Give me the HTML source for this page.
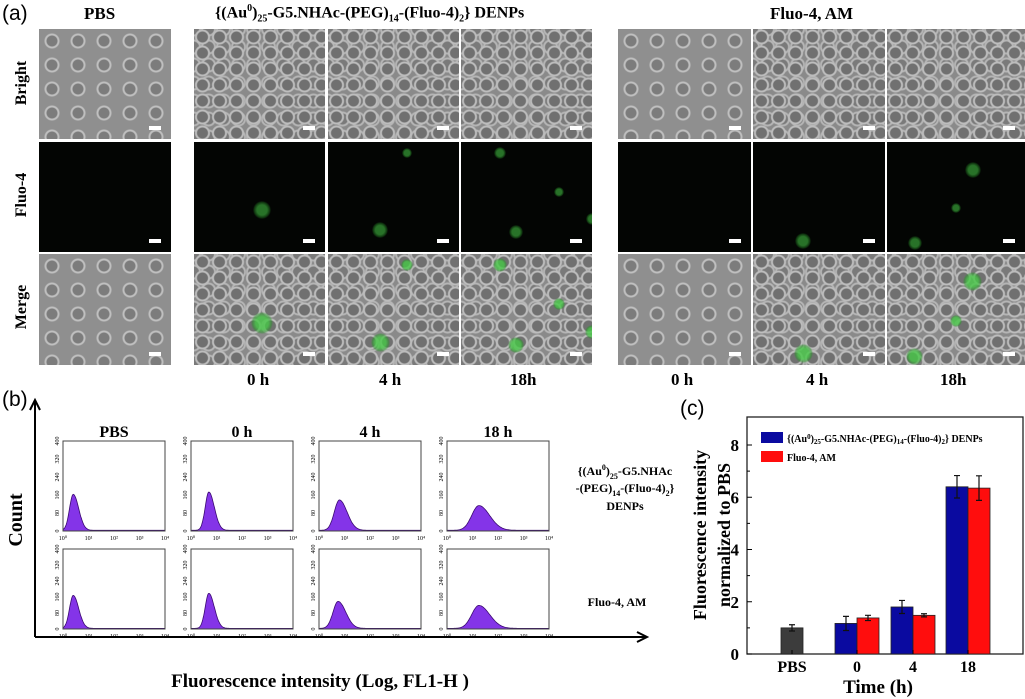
<!DOCTYPE html>
<html><head><meta charset="utf-8">
<style>
body{margin:0;width:1025px;height:699px;background:#fff;position:relative;overflow:hidden;font-family:"Liberation Serif",serif}
.t{position:absolute;font-weight:bold;white-space:nowrap}
.img{position:absolute;overflow:hidden}
.br{background-color:#8a8a8a;background-image:radial-gradient(circle at 50% 50%,#707070 0 5px,#bdbdbd 6px 7px,transparent 8px),radial-gradient(circle at 50% 50%,#7a7a7a 0 5px,#b5b5b5 6px 7px,transparent 8px);background-size:17px 16px,15px 18px;background-position:0 0,7px 9px}
.br2{background-color:#8f8f8f;background-image:radial-gradient(circle at 50% 50%,#7c7c7c 0 5px,#c0c0c0 6px 7px,transparent 8px);background-size:26px 24px}
.fl{background:#030503}
.sb{position:absolute;width:12px;height:4px;background:#fff}
.g{position:absolute;border-radius:50%;background:radial-gradient(circle,rgba(70,200,70,0.8) 0 40%,rgba(40,150,40,0.5) 60%,transparent 72%)}
.rot{position:absolute;transform:rotate(-90deg);transform-origin:center;font-weight:bold;white-space:nowrap}
</style></head><body>
<div class="t" style="left:2px;top:2px;font-family:'Liberation Sans',sans-serif;font-weight:normal;font-size:21px">(a)</div>
<div class="t" style="left:84px;top:4px;font-size:17px">PBS</div>
<div class="t" style="left:215px;top:3px;font-size:16px">{(Au<sup style="font-size:10px">0</sup>)<sub style="font-size:10px">25</sub>-G5.NHAc-(PEG)<sub style="font-size:10px">14</sub>-(Fluo-4)<sub style="font-size:10px">2</sub>} DENPs</div>
<div class="t" style="left:770px;top:4px;font-size:17px">Fluo-4, AM</div>
<div class="rot" style="left:-8px;top:74px;width:60px;text-align:center;font-size:16px">Bright</div>
<div class="rot" style="left:-8px;top:186px;width:60px;text-align:center;font-size:16px">Fluo-4</div>
<div class="rot" style="left:-8px;top:298px;width:60px;text-align:center;font-size:16px">Merge</div>
<div id="imgs"></div>
<div class="t" style="left:247px;top:370px;font-size:17px">0 h</div>
<div class="t" style="left:379px;top:370px;font-size:17px">4 h</div>
<div class="t" style="left:510px;top:370px;font-size:17px">18h</div>
<div class="t" style="left:671px;top:370px;font-size:17px">0 h</div>
<div class="t" style="left:806px;top:370px;font-size:17px">4 h</div>
<div class="t" style="left:940px;top:370px;font-size:17px">18h</div>
<div class="t" style="left:2px;top:388px;font-family:'Liberation Sans',sans-serif;font-weight:normal;font-size:21px">(b)</div>
<div class="t" style="left:680px;top:397px;font-family:'Liberation Sans',sans-serif;font-weight:normal;font-size:21px">(c)</div>
<svg id="hist" width="1025" height="699" style="position:absolute;left:0;top:0"></svg>
<svg id="bar" width="1025" height="699" style="position:absolute;left:0;top:0"></svg>
<script>
const colsX=[39,194,328,461,618,753,887];
const colW=[132,131,131,131,133,132,138];
const rowsY=[29,142,254];
const rowH=[110,110,111];
const imgBox=document.getElementById('imgs');
const greenSpots=[[],[[52,62,18]],[[40,80,16],[60,10,10]],[[30,10,12],[42,82,14],[100,70,12],[75,45,10]],[],[[38,90,16]],[[20,92,14],[62,25,16],[50,60,10]]];
const rowNames=['bright','fluo4','merge'];
for(let r=0;r<3;r++){for(let c=0;c<7;c++){
 const d=document.createElement('div');
 
 
 d.className='img '+(r===1?'fl':(c===0||c===4?'br2':'br'));
 d.style.left=colsX[c]+'px';d.style.top=rowsY[r]+'px';d.style.width=colW[c]+'px';d.style.height=rowH[r]+'px';
 if(r>0){greenSpots[c].forEach(s=>{const g=document.createElement('div');g.className='g';
  
  
  const sz=s[2]*(r===1?1:1.2);g.style.width=sz+'px';g.style.height=sz+'px';
  g.style.left=(s[0]/100*colW[c]-sz/2)+'px';g.style.top=(s[1]/100*rowH[r]-sz/2)+'px';
  if(r===1)g.style.opacity='0.7';d.appendChild(g);});}
 const s=document.createElement('div');s.className='sb';
 
 
 s.style.left=(colW[c]-22)+'px';s.style.top=(rowH[r]-13)+'px';
 d.appendChild(s);imgBox.appendChild(d);
}}
</script>
<script>
const histConditions=['PBS','0 h','4 h','18 h'];
const histTreatments=['DENPs','Fluo-4, AM'];
const peakLogDenps=[0.4,0.7,0.8,1.25];
const peakHeightDenps=[160,170,135,110];
const peakWidthDenps=[0.18,0.18,0.25,0.35];
const peakLogAm=[0.4,0.7,0.75,1.25];
const peakHeightAm=[165,175,135,115];
const peakWidthAm=[0.18,0.18,0.25,0.35];
const yTickLabels=['0','80','160','240','320','400'];
const yTickValues=[0,80,160,240,320,400];
const xTickLabels=['10⁰','10¹','10²','10³','10⁴'];
const NS='http://www.w3.org/2000/svg';
const H=document.getElementById('hist');
function el(tag,a,p){const e=document.createElementNS(NS,tag);for(const k in a)e.setAttribute(k,a[k]);(p||H).appendChild(e);return e;}
const hx0=[63,191,319,447],hw=102,hy0=[441,549],hh=[90,80];
const ln=el('path',{d:'M35,637 V402 M30,410 L35,400 L40,410 M35,637 H645 M637,632 L647,637 L637,642',stroke:'#000','stroke-width':2,fill:'none'});

for(let r=0;r<2;r++){
 const pk=r?peakLogAm:peakLogDenps,ph=r?peakHeightAm:peakHeightDenps,pw=r?peakWidthAm:peakWidthDenps;
 for(let c=0;c<4;c++){
  const x0=hx0[c],y0=hy0[r],h=hh[r];
  const X=v=>x0+v/4*hw, Y=v=>y0+h-v/400*h;
  let d=`M${X(0)},${Y(0)}`;
  for(let i=0;i<=200;i++){const v=i/50;const s=v<pk[c]?pw[c]*0.8:pw[c]*1.2;d+=` L${X(v).toFixed(1)},${Y(ph[c]*Math.exp(-((v-pk[c])**2)/(2*s*s))+3).toFixed(1)}`;}
  d+=` L${X(4)},${Y(0)} Z`;
  const a=el('path',{d:d,fill:'#8434e8',stroke:'#3a0a70','stroke-width':0.8});
  
  
  const f=el('rect',{x:x0,y:y0,width:hw,height:h,fill:'none',stroke:'#444','stroke-width':1});
  
  yTickValues.forEach((v,i)=>{const t=el('text',{x:0,y:0,'font-size':6,'font-family':'Liberation Serif',transform:`translate(${x0-4},${Y(v)}) rotate(-90)`,'text-anchor':'middle'});t.textContent=yTickLabels[i];
   });
  xTickLabels.forEach((l,i)=>{const t=el('text',{x:X(i),y:y0+h+9,'font-size':6,'font-family':'Liberation Serif','text-anchor':'middle'});t.textContent=l;
   });
  if(r===0){const t=el('text',{x:x0+hw/2,y:437,'font-size':16,'font-weight':'bold','font-family':'Liberation Serif','text-anchor':'middle'});t.textContent=histConditions[c];
   }
 }
}
function tx(s,x,y,sz,extra,name){const t=el('text',Object.assign({x:x,y:y,'font-size':sz,'font-weight':'bold','font-family':'Liberation Serif','text-anchor':'middle'},extra||{}));t.innerHTML=s;return t;}
tx('{(Au<tspan font-size="8" dy="-5">0</tspan><tspan dy="5">)</tspan><tspan font-size="8" dy="4">25</tspan><tspan dy="-4">-G5.NHAc</tspan>',625,475,12,{},'denps-row-label-1');
tx('-(PEG)<tspan font-size="8" dy="4">14</tspan><tspan dy="-4">-(Fluo-4)</tspan><tspan font-size="8" dy="4">2</tspan><tspan dy="-4">}</tspan>',625,492,12,{},'denps-row-label-2');
tx('DENPs',625,510,12,{},'denps-row-label-3');
tx('Fluo-4, AM',617,606,12,{},'fluo4am-row-label');
tx('Count',0,0,20,{transform:'translate(22,520) rotate(-90)'},'count-axis-title');
tx('Fluorescence intensity (Log, FL1-H )',320,687,19,{},'b-x-axis-title');
</script>
<script>
const barCategories=['PBS','0','4','18'];
const pbsValue=[1.0];const pbsErr=[0.12];
const denpsValues=[1.17,1.8,6.4];const denpsErr=[0.27,0.25,0.43];
const amValues=[1.38,1.48,6.35];const amErr=[0.1,0.06,0.47];
const yTicks=[0,2,4,6,8];
const B=document.getElementById('bar');
function be(tag,a){const e=document.createElementNS(NS,tag);for(const k in a)e.setAttribute(k,a[k]);B.appendChild(e);return e;}
const px0=747,px1=1023,py0=654,pyTop=417;
const yS=v=>py0-v/8*(py0-445);
const catX=[792,857,913,968],bw=22;
const fr=be('rect',{x:px0,y:pyTop,width:px1-px0,height:py0-pyTop,fill:'none',stroke:'#222','stroke-width':1.3});

yTicks.forEach(v=>{const l=be('line',{x1:px0,x2:px0+5,y1:yS(v),y2:yS(v),stroke:'#000'});
 if(v<8){const m=be('line',{x1:px0,x2:px0+3,y1:yS(v+1),y2:yS(v+1),stroke:'#000'});}
 const t=be('text',{x:px0-8,y:yS(v)+6,'font-size':17,'font-weight':'bold','font-family':'Liberation Serif','text-anchor':'end'});t.textContent=v;});
function bar(x,v,e,col,name){const r=be('rect',{x:x,y:yS(v),width:bw,height:yS(0)-yS(v),fill:col,stroke:'#222','stroke-width':0.8});
 const cx=x+bw/2;const p=be('path',{d:`M${cx},${yS(v-e)}V${yS(v+e)}M${cx-3},${yS(v+e)}H${cx+3}M${cx-3},${yS(v-e)}H${cx+3}`,stroke:'#111','stroke-width':1.2,fill:'none'});}
bar(catX[0]-bw/2,pbsValue[0],pbsErr[0],'#3c3c3c','bar-pbs');
for(let i=0;i<3;i++){bar(catX[i+1]-bw,denpsValues[i],denpsErr[i],'#0a0aa0','bar-denps-'+barCategories[i+1]);bar(catX[i+1],amValues[i],amErr[i],'#ff0d0d','bar-am-'+barCategories[i+1]);}
barCategories.forEach((c,i)=>{const l=be('line',{x1:catX[i],x2:catX[i],y1:py0,y2:py0-4,stroke:'#000'});
 const t=be('text',{x:catX[i],y:py0+18,'font-size':16,'font-weight':'bold','font-family':'Liberation Serif','text-anchor':'middle'});t.textContent=c;});
function ct(s,a,name){const t=be('text',Object.assign({'font-weight':'bold','font-family':'Liberation Serif','text-anchor':'middle'},a));t.innerHTML=s;}
ct('Time (h)',{x:878,y:693,'font-size':19},'c-x-axis-title');
ct('Fluorescence intensity',{transform:'translate(706,535) rotate(-90)','font-size':18},'c-y-axis-title-1');
ct('normalized to PBS',{transform:'translate(730,535) rotate(-90)','font-size':18},'c-y-axis-title-2');
const lg1=be('rect',{x:761,y:432,width:22,height:11,fill:'#0a0aa0'});
const lg2=be('rect',{x:761,y:451,width:22,height:11,fill:'#ff0d0d'});
ct('{(Au<tspan font-size="7" dy="-3">0</tspan><tspan dy="3">)</tspan><tspan font-size="7" dy="2">25</tspan><tspan dy="-2">-G5.NHAc-(PEG)</tspan><tspan font-size="7" dy="2">14</tspan><tspan dy="-2">-(Fluo-4)</tspan><tspan font-size="7" dy="2">2</tspan><tspan dy="-2">} DENPs</tspan>',{x:787,y:442,'font-size':10,'text-anchor':'start'},'legend-label-denps');
ct('Fluo-4, AM',{x:787,y:461,'font-size':10,'text-anchor':'start'},'legend-label-am');
</script>
</body></html>
